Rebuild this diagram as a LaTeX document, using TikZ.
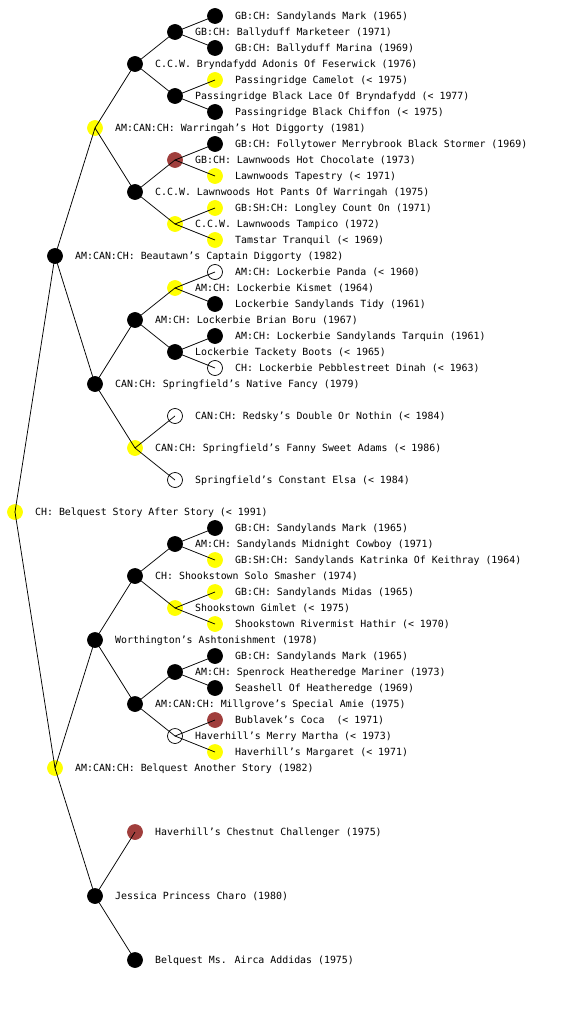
\documentclass[tikz,border=0pt]{standalone}
\usepackage{fontspec}
\newfontfamily\dogfont{DejaVu Sans Mono}
\definecolor{dogred}{RGB}{160,62,60}
\definecolor{dogyel}{RGB}{255,255,0}
\tikzset{
  dog/.style={circle, minimum size=15pt, inner sep=0pt, line width=0.7pt},
  blk/.style={dog, fill=black, draw=black},
  yel/.style={dog, fill=dogyel, draw=dogyel},
  red/.style={dog, fill=dogred, draw=dogred},
  emp/.style={dog, fill=white, draw=black},
  lbl/.style={anchor=base west, inner sep=0pt, font=\dogfont\fontsize{9.9}{12}\selectfont, text=black},
  edge/.style={draw=black, line width=0.75pt}
}
\newcommand\pnode[5]{\node[#4] (#1) at (#2,#3) {}; \node[lbl] (#1t) at (#2+20,#3+3.6) {#5};}
\begin{document}
\begin{tikzpicture}[x=1pt,y=-1pt]
\fill[white] (0,0) rectangle (560,1024);
\useasboundingbox (0,0) rectangle (560,1024);
% generation 0-1
\pnode{r}{15}{512}{yel}{CH: Belquest Story After Story (< 1991)}
\pnode{a}{55}{256}{blk}{AM:CAN:CH: Beautawn’s Captain Diggorty (1982)}
\pnode{b}{55}{768}{yel}{AM:CAN:CH: Belquest Another Story (1982)}
% generation 2
\pnode{aa}{95}{128}{yel}{AM:CAN:CH: Warringah’s Hot Diggorty (1981)}
\pnode{ab}{95}{384}{blk}{CAN:CH: Springfield’s Native Fancy (1979)}
\pnode{ba}{95}{640}{blk}{Worthington’s Ashtonishment (1978)}
\pnode{bb}{95}{896}{blk}{Jessica Princess Charo (1980)}
% generation 3
\pnode{aaa}{135}{64}{blk}{C.C.W. Bryndafydd Adonis Of Feserwick (1976)}
\pnode{aab}{135}{192}{blk}{C.C.W. Lawnwoods Hot Pants Of Warringah (1975)}
\pnode{aba}{135}{320}{blk}{AM:CH: Lockerbie Brian Boru (1967)}
\pnode{abb}{135}{448}{yel}{CAN:CH: Springfield’s Fanny Sweet Adams (< 1986)}
\pnode{baa}{135}{576}{blk}{CH: Shookstown Solo Smasher (1974)}
\pnode{bab}{135}{704}{blk}{AM:CAN:CH: Millgrove’s Special Amie (1975)}
\pnode{bba}{135}{832}{red}{Haverhill’s Chestnut Challenger (1975)}
\pnode{bbb}{135}{960}{blk}{Belquest Ms. Airca Addidas (1975)}
% generation 4
\pnode{aaaa}{175}{32}{blk}{GB:CH: Ballyduff Marketeer (1971)}
\pnode{aaab}{175}{96}{blk}{Passingridge Black Lace Of Bryndafydd (< 1977)}
\pnode{aaba}{175}{160}{red}{GB:CH: Lawnwoods Hot Chocolate (1973)}
\pnode{aabb}{175}{224}{yel}{C.C.W. Lawnwoods Tampico (1972)}
\pnode{abaa}{175}{288}{yel}{AM:CH: Lockerbie Kismet (1964)}
\pnode{abab}{175}{352}{blk}{Lockerbie Tackety Boots (< 1965)}
\pnode{abba}{175}{416}{emp}{CAN:CH: Redsky’s Double Or Nothin (< 1984)}
\pnode{abbb}{175}{480}{emp}{Springfield’s Constant Elsa (< 1984)}
\pnode{baaa}{175}{544}{blk}{AM:CH: Sandylands Midnight Cowboy (1971)}
\pnode{baab}{175}{608}{yel}{Shookstown Gimlet (< 1975)}
\pnode{baba}{175}{672}{blk}{AM:CH: Spenrock Heatheredge Mariner (1973)}
\pnode{babb}{175}{736}{emp}{Haverhill’s Merry Martha (< 1973)}
% generation 5
\pnode{aaaaa}{215}{16}{blk}{GB:CH: Sandylands Mark (1965)}
\pnode{aaaab}{215}{48}{blk}{GB:CH: Ballyduff Marina (1969)}
\pnode{aaaba}{215}{80}{yel}{Passingridge Camelot (< 1975)}
\pnode{aaabb}{215}{112}{blk}{Passingridge Black Chiffon (< 1975)}
\pnode{aabaa}{215}{144}{blk}{GB:CH: Follytower Merrybrook Black Stormer (1969)}
\pnode{aabab}{215}{176}{yel}{Lawnwoods Tapestry (< 1971)}
\pnode{aabba}{215}{208}{yel}{GB:SH:CH: Longley Count On (1971)}
\pnode{aabbb}{215}{240}{yel}{Tamstar Tranquil (< 1969)}
\pnode{abaaa}{215}{272}{emp}{AM:CH: Lockerbie Panda (< 1960)}
\pnode{abaab}{215}{304}{blk}{Lockerbie Sandylands Tidy (1961)}
\pnode{ababa}{215}{336}{blk}{AM:CH: Lockerbie Sandylands Tarquin (1961)}
\pnode{ababb}{215}{368}{emp}{CH: Lockerbie Pebblestreet Dinah (< 1963)}
\pnode{baaaa}{215}{528}{blk}{GB:CH: Sandylands Mark (1965)}
\pnode{baaab}{215}{560}{yel}{GB:SH:CH: Sandylands Katrinka Of Keithray (1964)}
\pnode{baaba}{215}{592}{yel}{GB:CH: Sandylands Midas (1965)}
\pnode{baabb}{215}{624}{yel}{Shookstown Rivermist Hathir (< 1970)}
\pnode{babaa}{215}{656}{blk}{GB:CH: Sandylands Mark (1965)}
\pnode{babab}{215}{688}{blk}{Seashell Of Heatheredge (1969)}
\pnode{babba}{215}{720}{red}{Bublavek’s Coca\ \ (< 1971)}
\pnode{babbb}{215}{752}{yel}{Haverhill’s Margaret (< 1971)}
% connectors
\foreach \p/\c in {r/a, r/b, a/aa, a/ab, b/ba, b/bb,
  aa/aaa, aa/aab, ab/aba, ab/abb, ba/baa, ba/bab, bb/bba, bb/bbb,
  aaa/aaaa, aaa/aaab, aab/aaba, aab/aabb, aba/abaa, aba/abab, abb/abba, abb/abbb,
  baa/baaa, baa/baab, bab/baba, bab/babb,
  aaaa/aaaaa, aaaa/aaaab, aaab/aaaba, aaab/aaabb, aaba/aabaa, aaba/aabab,
  aabb/aabba, aabb/aabbb, abaa/abaaa, abaa/abaab, abab/ababa, abab/ababb,
  baaa/baaaa, baaa/baaab, baab/baaba, baab/baabb, baba/babaa, baba/babab,
  babb/babba, babb/babbb}
  \draw[edge] (\p.center) -- (\c.center);
\end{tikzpicture}
\end{document}
